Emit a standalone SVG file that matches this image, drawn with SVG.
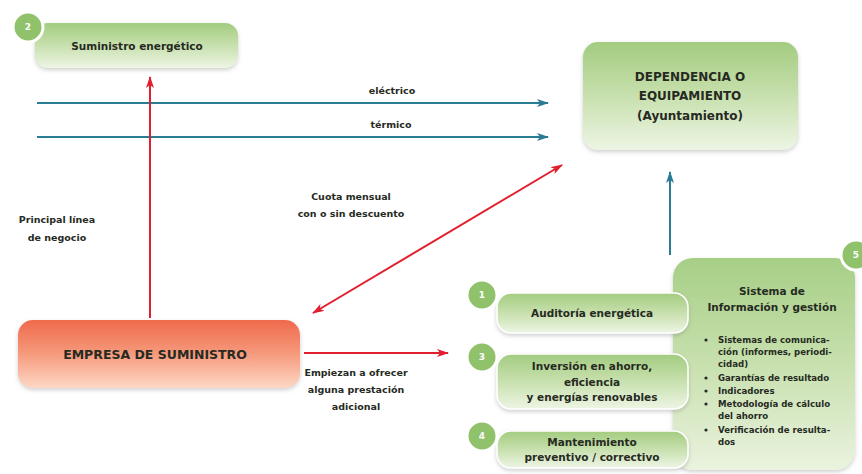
<svg xmlns="http://www.w3.org/2000/svg" width="862" height="474" viewBox="0 0 862 474">
<defs>
<linearGradient id="gGreen" x1="0" y1="0" x2="0" y2="1">
<stop offset="0" stop-color="#a3cc80"/>
<stop offset="0.45" stop-color="#c4dea9"/>
<stop offset="1" stop-color="#edf5e4"/>
</linearGradient>
<linearGradient id="gGreen5" x1="0" y1="0" x2="0" y2="1">
<stop offset="0" stop-color="#a6cf86"/>
<stop offset="0.5" stop-color="#c8e0ae"/>
<stop offset="1" stop-color="#eaf3df"/>
</linearGradient>
<linearGradient id="gRed" x1="0" y1="0" x2="0" y2="1">
<stop offset="0" stop-color="#ef6a4c"/>
<stop offset="0.5" stop-color="#f69a7c"/>
<stop offset="1" stop-color="#fdd8c5"/>
</linearGradient>
<filter id="sh" x="-10%" y="-20%" width="120%" height="150%">
<feDropShadow dx="0" dy="2" stdDeviation="2" flood-color="#777" flood-opacity="0.35"/>
</filter>
<marker id="aBlue" viewBox="0 0 12 8" refX="11" refY="4" markerWidth="12" markerHeight="8" markerUnits="userSpaceOnUse" orient="auto">
<path d="M0,0 L12,4 L0,8 L3,4 z" fill="#2a7b94"/>
</marker>
<marker id="aRed" viewBox="0 0 12 8" refX="11" refY="4" markerWidth="12" markerHeight="8" markerUnits="userSpaceOnUse" orient="auto-start-reverse">
<path d="M0,0 L12,4 L0,8 L3,4 z" fill="#e0202f"/>
</marker>
</defs>
<style>
text{font-family:"DejaVu Sans","Liberation Sans",sans-serif;font-weight:bold;fill:#262a22;text-anchor:middle}
.t11{font-size:10.5px}
.t12{font-size:12px}
.t13{font-size:12.5px}
.t10{font-size:9.5px}
.tb{font-size:8.6px;text-anchor:start}
.num{font-size:9px;fill:#ffffff}
.circ{fill:#8fc26b;stroke:#ffffff;stroke-width:3}
.blue{stroke:#2a7b94;stroke-width:2;fill:none}
.red{stroke:#e0202f;stroke-width:2;fill:none}
.box{filter:url(#sh)}
</style>
<rect width="862" height="474" fill="#ffffff"/>

<g id="connectors">
<line class="blue" x1="37" y1="103" x2="548" y2="103" marker-end="url(#aBlue)"/>
<line class="blue" x1="37" y1="137" x2="548" y2="137" marker-end="url(#aBlue)"/>
<line class="blue" x1="670" y1="255" x2="670" y2="172" marker-end="url(#aBlue)"/>
<line class="red" x1="150" y1="318" x2="150" y2="77" marker-end="url(#aRed)"/>
<line class="red" x1="313" y1="313" x2="562" y2="165" marker-start="url(#aRed)" marker-end="url(#aRed)"/>
<line class="red" x1="304" y1="353" x2="448" y2="353" marker-end="url(#aRed)"/>
<text class="t10" x="392" y="94">eléctrico</text>
<text class="t10" x="391" y="128">térmico</text>
<text class="t10" x="351" y="200">Cuota mensual</text>
<text class="t10" x="351" y="217">con o sin descuento</text>
<text class="t10" x="57" y="223">Principal línea</text>
<text class="t10" x="57" y="241">de negocio</text>
<text class="t10" x="356" y="376">Empiezan a ofrecer</text>
<text class="t10" x="356" y="393">alguna prestación</text>
<text class="t10" x="356" y="410">adicional</text>
</g>

<g id="node-suministro">
<rect class="box" x="35" y="23" width="203" height="45" rx="13" fill="url(#gGreen)"/>
<circle class="circ" cx="28" cy="27" r="15"/>
<text class="num" x="28" y="30">2</text>
<text class="t11" x="137" y="50">Suministro energético</text>
</g>

<g id="node-dependencia">
<rect class="box" x="583" y="42" width="215" height="108" rx="15" fill="url(#gGreen)"/>
<text class="t12" x="690" y="81">DEPENDENCIA O</text>
<text class="t12" x="690" y="100">EQUIPAMIENTO</text>
<text class="t12" x="690" y="120">(Ayuntamiento)</text>
</g>

<g id="node-empresa">
<rect class="box" x="18" y="320" width="282" height="68" rx="15" fill="url(#gRed)"/>
<text class="t13" x="155" y="359">EMPRESA DE SUMINISTRO</text>
</g>

<g id="node-sistema">
<rect class="box" x="673" y="258" width="182" height="212" rx="20" fill="url(#gGreen5)"/>
<circle class="circ" cx="856" cy="255" r="15"/>
<text class="num" x="856" y="258">5</text>
<text class="t11" x="772" y="295">Sistema de</text>
<text class="t11" x="772" y="311">Información y gestión</text>
<g>
<circle cx="706" cy="340" r="1.6" fill="#262a22"/>
<circle cx="706" cy="378" r="1.6" fill="#262a22"/>
<circle cx="706" cy="391" r="1.6" fill="#262a22"/>
<circle cx="706" cy="404" r="1.6" fill="#262a22"/>
<circle cx="706" cy="430" r="1.6" fill="#262a22"/>
</g>
<text class="tb" x="718" y="343">Sistemas de comunica-</text>
<text class="tb" x="718" y="355">ción (informes, periodi-</text>
<text class="tb" x="718" y="367">cidad)</text>
<text class="tb" x="718" y="381">Garantías de resultado</text>
<text class="tb" x="718" y="394">Indicadores</text>
<text class="tb" x="718" y="407">Metodología de cálculo</text>
<text class="tb" x="718" y="419">del ahorro</text>
<text class="tb" x="718" y="433">Verificación de resulta-</text>
<text class="tb" x="718" y="445">dos</text>
</g>

<g id="node-auditoria">
<rect class="box" x="497" y="293" width="191" height="40" rx="14" fill="url(#gGreen)" stroke="#ffffff" stroke-width="1.5"/>
<circle class="circ" cx="482" cy="295" r="15"/>
<text class="num" x="482" y="298">1</text>
<text class="t11" x="592" y="317">Auditoría energética</text>
</g>

<g id="node-inversion">
<rect class="box" x="497" y="354" width="191" height="55" rx="14" fill="url(#gGreen)" stroke="#ffffff" stroke-width="1.5"/>
<circle class="circ" cx="482" cy="357" r="15"/>
<text class="num" x="482" y="360">3</text>
<text class="t11" x="592" y="370">Inversión en ahorro,</text>
<text class="t11" x="592" y="386">eficiencia</text>
<text class="t11" x="592" y="401">y energías renovables</text>
</g>

<g id="node-mantenimiento">
<rect class="box" x="497" y="431" width="191" height="37" rx="14" fill="url(#gGreen)" stroke="#ffffff" stroke-width="1.5"/>
<circle class="circ" cx="482" cy="436" r="15"/>
<text class="num" x="482" y="439">4</text>
<text class="t11" x="592" y="446">Mantenimiento</text>
<text class="t11" x="592" y="461">preventivo / correctivo</text>
</g>
</svg>
